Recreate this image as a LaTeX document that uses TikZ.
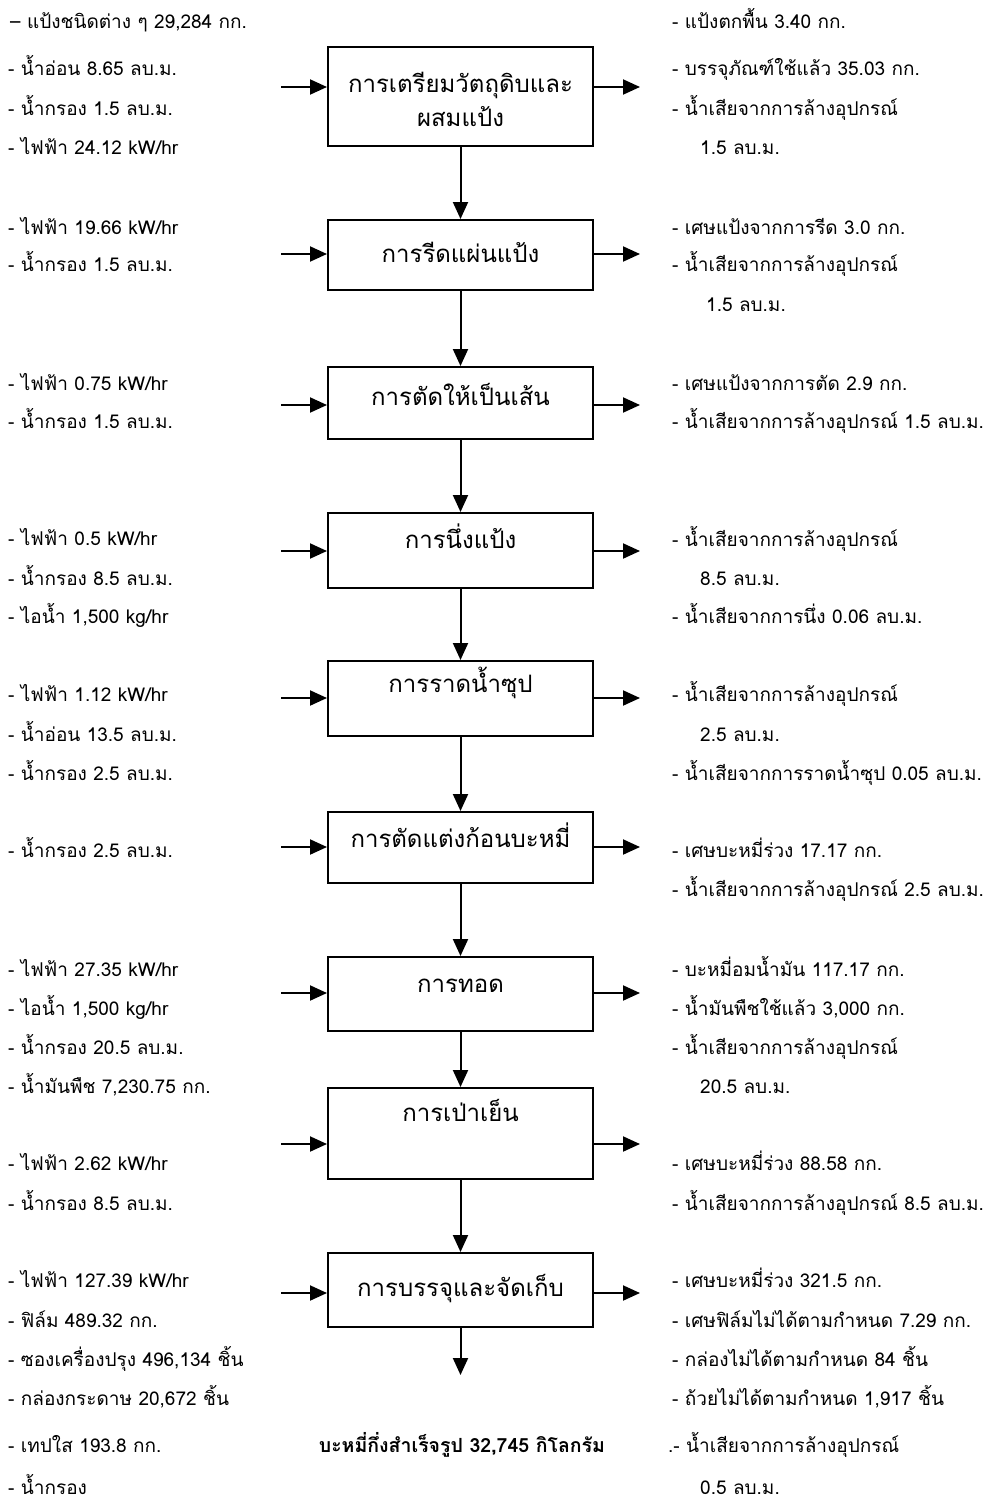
\documentclass[tikz,border=0pt]{standalone}
\usepackage{fontspec}
\setmainfont[Script=Thai]{Loma}
\usetikzlibrary{arrows.meta}
\tikzset{
  lbl/.style={anchor=base west, inner sep=0pt, font=\fontsize{19}{22}\selectfont},
  procbox/.style={draw, line width=2pt, minimum width=265pt, inner sep=0pt},
  boxtxt/.style={anchor=base, inner sep=0pt, align=center, font=\fontsize{24}{34}\selectfont},
  flow/.style={line width=2pt, -{Triangle[length=17pt,width=15pt]}},
  final/.style={anchor=base, inner sep=0pt, font=\bfseries\fontsize{19.5}{22}\selectfont}
}
\begin{document}
\begin{tikzpicture}[x=1pt,y=-1pt]
\useasboundingbox (0,0) rectangle (991,1501);
% process boxes
\node[procbox, minimum height=98pt] (b1) at (460.5,96.5) {};
\node[procbox, minimum height=70pt] (b2) at (460.5,255) {};
\node[procbox, minimum height=72pt] (b3) at (460.5,403) {};
\node[procbox, minimum height=75pt] (b4) at (460.5,550.5) {};
\node[procbox, minimum height=75pt] (b5) at (460.5,698.5) {};
\node[procbox, minimum height=71pt] (b6) at (460.5,847.5) {};
\node[procbox, minimum height=74pt] (b7) at (460.5,994) {};
\node[procbox, minimum height=91pt] (b8) at (460.5,1133.5) {};
\node[procbox, minimum height=74pt] (b9) at (460.5,1290) {};
% box texts
\node[boxtxt] (t1) at (460.5,127) {การเตรียมวัตถุดิบและ\\ผสมแป้ง};
\node[boxtxt] (t2) at (460.5,262) {การรีดแผ่นแป้ง};
\node[boxtxt] (t3) at (460.5,405) {การตัดให้เป็นเส้น};
\node[boxtxt] (t4) at (460.5,548) {การนึ่งแป้ง};
\node[boxtxt] (t5) at (460.5,692) {การราดน้ำซุป};
\node[boxtxt] (t6) at (460.5,847) {การตัดแต่งก้อนบะหมี่};
\node[boxtxt] (t7) at (460.5,992) {การทอด};
\node[boxtxt] (t8) at (460.5,1121) {การเป่าเย็น};
\node[boxtxt] (t9) at (460.5,1296) {การบรรจุและจัดเก็บ};
% vertical flow
\draw[flow] (b1.south) -- (b2.north);
\draw[flow] (b2.south) -- (b3.north);
\draw[flow] (b3.south) -- (b4.north);
\draw[flow] (b4.south) -- (b5.north);
\draw[flow] (b5.south) -- (b6.north);
\draw[flow] (b6.south) -- (b7.north);
\draw[flow] (b7.south) -- (b8.north);
\draw[flow] (b8.south) -- (b9.north);
\coordinate (endpt) at (460.5,1375);
\draw[flow] (b9.south) -- (endpt);
% side arrows
\foreach \i/\y in {1/87,2/254,3/405,4/551,5/698,6/847,7/993,8/1144,9/1293}{
  \coordinate (in\i) at (281,\y);
  \coordinate (out\i) at (640,\y);
  \draw[flow] (in\i) -- (in\i -| b\i.west);
  \draw[flow] (out\i -| b\i.east) -- (out\i);
}
% left inputs
\node[lbl] (l1a) at (10,29) {– แป้งชนิดต่าง ๆ 29,284 กก.};
\node[lbl] (l1b) at (8,76) {- น้ำอ่อน 8.65 ลบ.ม.};
\node[lbl] (l1c) at (8,116) {- น้ำกรอง 1.5 ลบ.ม.};
\node[lbl] (l1d) at (8,154) {- ไฟฟ้า 24.12 kW/hr};
\node[lbl] (l2a) at (8,234) {- ไฟฟ้า 19.66 kW/hr};
\node[lbl] (l2b) at (8,271) {- น้ำกรอง 1.5 ลบ.ม.};
\node[lbl] (l3a) at (8,390) {- ไฟฟ้า 0.75 kW/hr};
\node[lbl] (l3b) at (8,428) {- น้ำกรอง 1.5 ลบ.ม.};
\node[lbl] (l4a) at (8,545) {- ไฟฟ้า 0.5 kW/hr};
\node[lbl] (l4b) at (8,585) {- น้ำกรอง 8.5 ลบ.ม.};
\node[lbl] (l4c) at (8,623) {- ไอน้ำ 1,500 kg/hr};
\node[lbl] (l5a) at (8,701) {- ไฟฟ้า 1.12 kW/hr};
\node[lbl] (l5b) at (8,741) {- น้ำอ่อน 13.5 ลบ.ม.};
\node[lbl] (l5c) at (8,780) {- น้ำกรอง 2.5 ลบ.ม.};
\node[lbl] (l6a) at (8,857) {- น้ำกรอง 2.5 ลบ.ม.};
\node[lbl] (l7a) at (8,976) {- ไฟฟ้า 27.35 kW/hr};
\node[lbl] (l7b) at (8,1015) {- ไอน้ำ 1,500 kg/hr};
\node[lbl] (l7c) at (8,1054) {- น้ำกรอง 20.5 ลบ.ม.};
\node[lbl] (l7d) at (8,1093) {- น้ำมันพืช 7,230.75 กก.};
\node[lbl] (l8a) at (8,1170) {- ไฟฟ้า 2.62 kW/hr};
\node[lbl] (l8b) at (8,1210) {- น้ำกรอง 8.5 ลบ.ม.};
\node[lbl] (l9a) at (8,1287) {- ไฟฟ้า 127.39 kW/hr};
\node[lbl] (l9b) at (8,1327) {- ฟิล์ม 489.32 กก.};
\node[lbl] (l9c) at (8,1366) {- ซองเครื่องปรุง 496,134 ชิ้น};
\node[lbl] (l9d) at (8,1405) {- กล่องกระดาษ 20,672 ชิ้น};
\node[lbl] (l9e) at (8,1452) {- เทปใส 193.8 กก.};
\node[lbl] (l9f) at (8,1494) {- น้ำกรอง};
% right outputs
\node[lbl] (r1a) at (672,29) {- แป้งตกพื้น 3.40 กก.};
\node[lbl] (r1b) at (672,76) {- บรรจุภัณฑ์ใช้แล้ว 35.03 กก.};
\node[lbl] (r1c) at (672,116) {- น้ำเสียจากการล้างอุปกรณ์};
\node[lbl] (r1d) at (700,154) {1.5 ลบ.ม.};
\node[lbl] (r2a) at (672,234) {- เศษแป้งจากการรีด 3.0 กก.};
\node[lbl] (r2b) at (672,271) {- น้ำเสียจากการล้างอุปกรณ์};
\node[lbl] (r2c) at (706,311) {1.5 ลบ.ม.};
\node[lbl] (r3a) at (672,390) {- เศษแป้งจากการตัด 2.9 กก.};
\node[lbl] (r3b) at (672,428) {- น้ำเสียจากการล้างอุปกรณ์ 1.5 ลบ.ม.};
\node[lbl] (r4a) at (672,546) {- น้ำเสียจากการล้างอุปกรณ์};
\node[lbl] (r4b) at (700,585) {8.5 ลบ.ม.};
\node[lbl] (r4c) at (672,623) {- น้ำเสียจากการนึ่ง 0.06 ลบ.ม.};
\node[lbl] (r5a) at (672,701) {- น้ำเสียจากการล้างอุปกรณ์};
\node[lbl] (r5b) at (700,741) {2.5 ลบ.ม.};
\node[lbl] (r5c) at (672,780) {- น้ำเสียจากการราดน้ำซุป 0.05 ลบ.ม.};
\node[lbl] (r6a) at (672,857) {- เศษบะหมี่ร่วง 17.17 กก.};
\node[lbl] (r6b) at (672,896) {- น้ำเสียจากการล้างอุปกรณ์ 2.5 ลบ.ม.};
\node[lbl] (r7a) at (672,976) {- บะหมี่อมน้ำมัน 117.17 กก.};
\node[lbl] (r7b) at (672,1015) {- น้ำมันพืชใช้แล้ว 3,000 กก.};
\node[lbl] (r7c) at (672,1054) {- น้ำเสียจากการล้างอุปกรณ์};
\node[lbl] (r7d) at (700,1093) {20.5 ลบ.ม.};
\node[lbl] (r8a) at (672,1170) {- เศษบะหมี่ร่วง 88.58 กก.};
\node[lbl] (r8b) at (672,1210) {- น้ำเสียจากการล้างอุปกรณ์ 8.5 ลบ.ม.};
\node[lbl] (r9a) at (672,1287) {- เศษบะหมี่ร่วง 321.5 กก.};
\node[lbl] (r9b) at (672,1327) {- เศษฟิล์มไม่ได้ตามกำหนด 7.29 กก.};
\node[lbl] (r9c) at (672,1366) {- กล่องไม่ได้ตามกำหนด 84 ชิ้น};
\node[lbl] (r9d) at (672,1405) {- ถ้วยไม่ได้ตามกำหนด 1,917 ชิ้น};
\node[lbl] (r9e) at (668,1452) {.- น้ำเสียจากการล้างอุปกรณ์};
\node[lbl] (r9f) at (700,1494) {0.5 ลบ.ม.};
% final product
\node[final] (prod) at (462,1452) {บะหมี่กึ่งสำเร็จรูป 32,745 กิโลกรัม};
\end{tikzpicture}
\end{document}
